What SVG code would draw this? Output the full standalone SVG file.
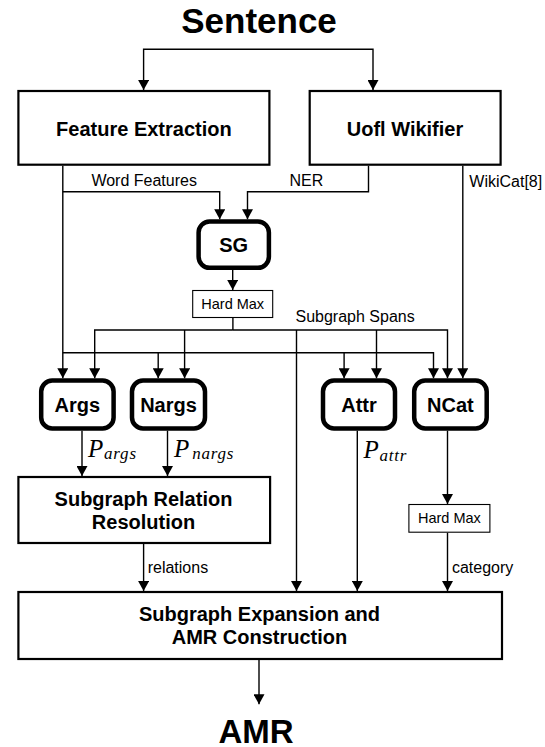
<svg xmlns="http://www.w3.org/2000/svg" width="545" height="747" viewBox="0 0 545 747">
  <style>
    .title { font-family: "Liberation Sans", Arial, sans-serif; font-weight: bold; font-size: 35px; fill: #000; text-anchor: middle; }
    .box { fill: #fff; stroke: #000; stroke-width: 2.2; }
    .model { fill: #fff; stroke: #000; stroke-width: 4.5; }
    .small { fill: #fff; stroke: #000; stroke-width: 1.1; }
    .blabel { font-family: "Liberation Sans", Arial, sans-serif; font-weight: bold; font-size: 20px; fill: #000; text-anchor: middle; }
    .hm { font-family: "Liberation Sans", Arial, sans-serif; font-size: 14.5px; fill: #000; text-anchor: middle; }
    .lbl { font-family: "Liberation Sans", Arial, sans-serif; font-size: 16px; fill: #000; }
    .math { font-family: "Liberation Serif", "Times New Roman", serif; font-style: italic; font-size: 25px; fill: #000; }
    .sub { font-family: "Liberation Serif", "Times New Roman", serif; font-style: italic; font-size: 17px; fill: #000; letter-spacing: 0.8px; }
    .edges path { fill: none; stroke: #000; stroke-width: 1.4; }
    .edges .arr { marker-end: url(#head); }
  </style>
  <defs>
    <marker id="head" markerUnits="userSpaceOnUse" markerWidth="10" markerHeight="11" refX="10" refY="5" orient="auto" viewBox="0 0 10 10" preserveAspectRatio="none">
      <path d="M0,0 L10,5 L0,10 z" fill="#000"/>
    </marker>
  </defs>
  <rect width="545" height="747" fill="#fff"/>

  <!-- connectors -->
  <g id="connectors" class="edges">
    <path class="arr" d="M259,49.3 H143.6 V90"/>
    <path class="arr" d="M259,49.3 H373 V90"/>
    <path class="arr" d="M62.8,165.7 V378.3"/>
    <path class="arr" d="M62.8,191.7 H219.7 V219.3"/>
    <path class="arr" d="M368.5,165.7 V191.7 H247.5 V219.3"/>
    <path class="arr" d="M462.8,165.7 V378.3"/>
    <path class="arr" d="M232.7,270 V290"/>
    <path d="M232.9,317.7 V330"/>
    <path class="arr" d="M232.9,330 H94.7 V378.3"/>
    <path class="arr" d="M232.9,330 H447.5 V378.3"/>
    <path class="arr" d="M184.6,330 V378.3"/>
    <path class="arr" d="M376.5,330 V378.3"/>
    <path class="arr" d="M296.5,330 V591"/>
    <path class="arr" d="M62.8,352.7 H433.5 V378.3"/>
    <path class="arr" d="M158.2,352.7 V378.3"/>
    <path class="arr" d="M344.1,352.7 V378.3"/>
    <path class="arr" d="M82,430.7 V476"/>
    <path class="arr" d="M167.5,430.7 V476"/>
    <path class="arr" d="M357.3,430.7 V591"/>
    <path class="arr" d="M447.5,430.7 V504"/>
    <path class="arr" d="M447.5,532.7 V591"/>
    <path class="arr" d="M143.6,544 V591"/>
    <path class="arr" d="M259,660 V704.3"/>
  </g>

  <!-- connector labels -->
  <g id="edge-labels">
    <text class="lbl" x="91.4" y="186">Word Features</text>
    <text class="lbl" x="289.5" y="186">NER</text>
    <text class="lbl" x="469.3" y="187">WikiCat[8]</text>
    <text class="lbl" x="295.5" y="322.3">Subgraph Spans</text>
    <text class="lbl" x="147.7" y="572.7">relations</text>
    <text class="lbl" x="451.9" y="572.7">category</text>
    <text class="math" x="88" y="456.7">P</text>
    <text class="sub" x="104" y="459">args</text>
    <text class="math" x="174" y="456.7">P</text>
    <text class="sub" x="192.2" y="459">nargs</text>
    <text class="math" x="363.6" y="458.3">P</text>
    <text class="sub" x="379.5" y="461">attr</text>
  </g>

  <g id="sentence"><text class="title" x="259" y="33.3">Sentence</text></g>

  <g id="feature-extraction">
    <rect class="box" x="18.4" y="91" width="251" height="73.7"/>
    <text class="blabel" x="143.9" y="135.7">Feature Extraction</text>
  </g>

  <g id="wikifier">
    <rect class="box" x="309.7" y="91" width="190.9" height="73.7"/>
    <text class="blabel" x="405" y="135.7">Uofl Wikifier</text>
  </g>

  <g id="sg">
    <rect class="model" x="198.6" y="221.5" width="70.3" height="46.3" rx="11"/>
    <text class="blabel" x="233.7" y="251.7">SG</text>
  </g>

  <g id="hardmax-spans">
    <rect class="small" x="192.7" y="290.5" width="80" height="27"/>
    <text class="hm" x="232.7" y="308.8">Hard Max</text>
  </g>

  <g id="args">
    <rect class="model" x="41.2" y="380.6" width="72.4" height="47.8" rx="11"/>
    <text class="blabel" x="77.4" y="411.7">Args</text>
  </g>

  <g id="nargs">
    <rect class="model" x="132" y="380.6" width="73" height="47.8" rx="11"/>
    <text class="blabel" x="168.5" y="411.7">Nargs</text>
  </g>

  <g id="attr">
    <rect class="model" x="323" y="380.6" width="72" height="47.8" rx="11"/>
    <text class="blabel" x="359" y="411.7">Attr</text>
  </g>

  <g id="ncat">
    <rect class="model" x="414.2" y="380.6" width="72.5" height="47.8" rx="11"/>
    <text class="blabel" x="450.4" y="411.7">NCat</text>
  </g>

  <g id="hardmax-category">
    <rect class="small" x="408.9" y="504.5" width="81" height="27.7"/>
    <text class="hm" x="449.4" y="522.5">Hard Max</text>
  </g>

  <g id="relation-resolution">
    <rect class="box" x="18.4" y="477" width="251.7" height="66"/>
    <text class="blabel" x="143.5" y="505.7">Subgraph Relation</text>
    <text class="blabel" x="143.5" y="529.3">Resolution</text>
  </g>

  <g id="expansion">
    <rect class="box" x="18.4" y="592" width="483.6" height="67"/>
    <text class="blabel" x="259.5" y="620.7">Subgraph Expansion and</text>
    <text class="blabel" x="259.5" y="644.3">AMR Construction</text>
  </g>

  <g id="amr"><text class="title" x="256" y="743" style="font-size:33px">AMR</text></g>
</svg>
